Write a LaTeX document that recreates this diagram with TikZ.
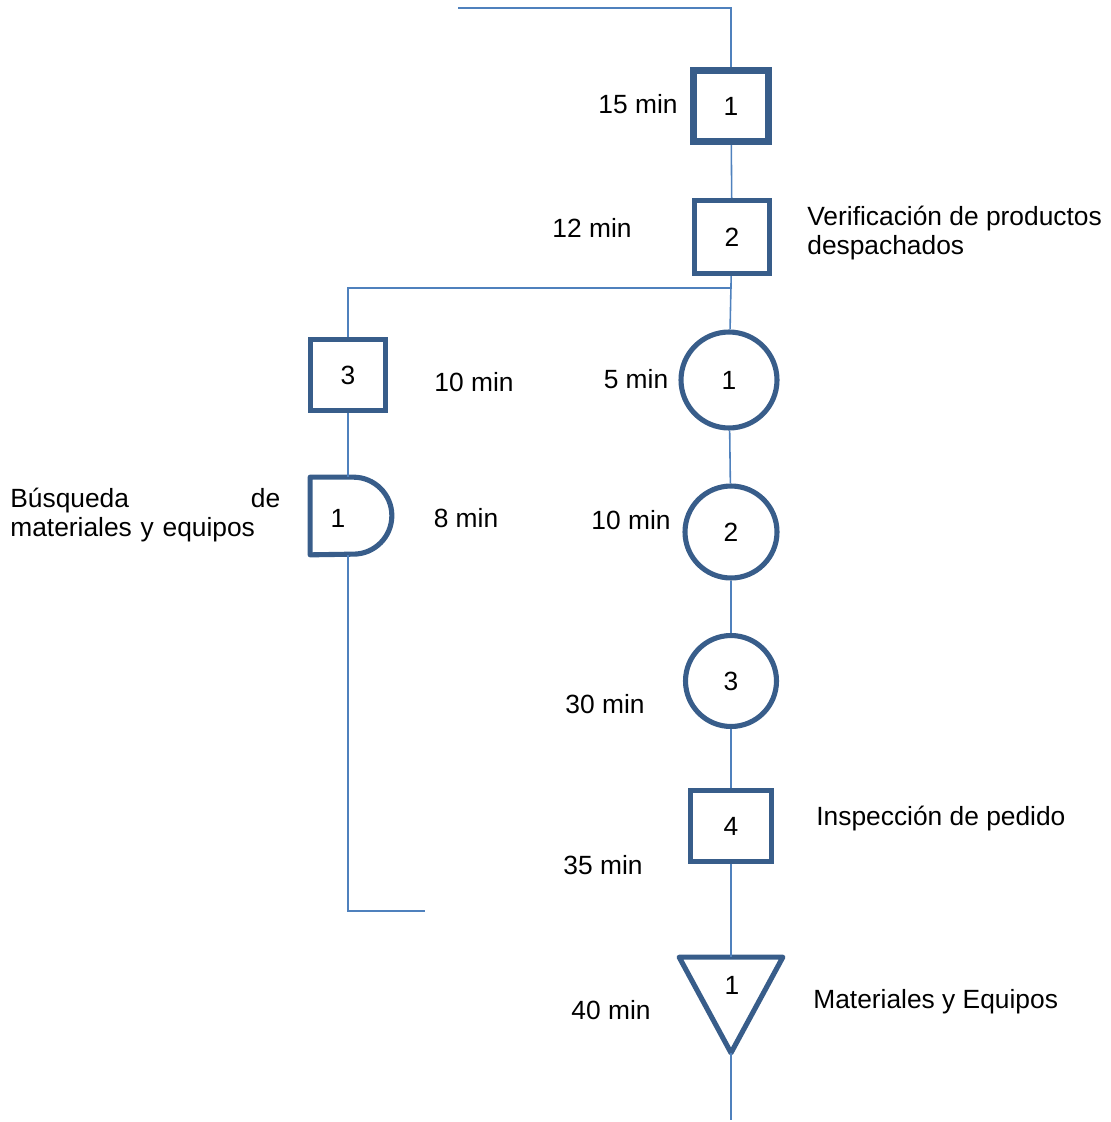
\documentclass[tikz,border=0pt]{standalone}
\usepackage{fontspec}
\setmainfont{Liberation Sans}
\definecolor{lineblue}{RGB}{79,129,189}
\definecolor{shapeblue}{RGB}{56,93,138}

\begin{document}
\begin{tikzpicture}[
    x=0.02cm, y=-0.02cm,
    font=\fontsize{15}{17}\selectfont,
    opbox/.style={rectangle, draw=shapeblue, line width=2.9pt, minimum width=1.5cm, minimum height=1.42cm, inner sep=0pt},
    opcircle/.style={circle, draw=shapeblue, line width=2.9pt, inner sep=0pt},
    holder/.style={rectangle, inner sep=0pt},
    shapeline/.style={draw=shapeblue, line width=2.9pt, line join=round},
    line/.style={draw=lineblue, line width=0.9pt},
    time/.style={inner sep=0pt},
    note/.style={anchor=west, align=left, inner sep=0pt}
]
\useasboundingbox (0,0) rectangle (1110,1122);

% Nodes
\node[opbox, line width=4.2pt] (op1) at (731,106) {1};
\node[opbox, minimum height=1.46cm] (op2) at (732,237) {2};
\node[opbox] (op3) at (348,375) {3};
\node[opbox, minimum width=1.62cm] (op4) at (731,826) {4};
\node[opcircle, minimum size=1.92cm] (tr1) at (729,380) {1};
\node[opcircle, minimum size=1.84cm] (tr2) at (731,532) {2};
\node[opcircle, minimum size=1.82cm] (tr3) at (731,681) {3};
\node[holder, minimum width=1.62cm, minimum height=1.54cm] (delay) at (351,516) {};
\node[holder, minimum width=2.06cm, minimum height=1.9cm] (store) at (731,1005) {};

% Shapes drawn round the holders
\draw[shapeline] (delay.south west) -- (delay.north west) -- ([xshift=-0.77cm]delay.north east) arc[start angle=90, end angle=-90, radius=0.77cm] -- cycle;
\draw[shapeline] (store.north west) -- (store.north east) -- (store.south) -- cycle;
\node (delaynum) at (338,518) {1};
\node (storenum) at (732,985) {1};

% Lines
\coordinate (start) at (458,8);
\coordinate (split) at (732,288);
\coordinate (fin) at (425,911);
\coordinate (exit) at (731,1120);
\draw[line] (start) -| (op1);
\draw[line] (op1) -- (op2);
\draw[line] (op2) -- (tr1);
\draw[line] (split) -| (op3);
\draw[line] (tr1) -- (tr2);
\draw[line] (tr2) -- (tr3);
\draw[line] (tr3) -- (op4);
\draw[line] (op4) -- (store.north);
\draw[line] (store.south) -- (exit);
\draw[line] (op3) -- (op3 |- delay.north);
\draw[line] (op3 |- delay.south) |- (fin);

% Times
\node[time] (t1) at (638,104) {15 min};
\node[time] (t2) at (592,228) {12 min};
\node[time] (t3) at (474,382) {10 min};
\node[time] (t4) at (636,379) {5 min};
\node[time] (t5) at (466,518) {8 min};
\node[time] (t6) at (631,520) {10 min};
\node[time] (t7) at (605,704) {30 min};
\node[time] (t8) at (603,865) {35 min};
\node[time] (t9) at (611,1010) {40 min};

% Notes
\node[note] (nop2) at (807,233) {Verificación de productos\\despachados};
\node[note] (nop4) at (816,819) {Inspección de pedido};
\node[note] (nstore) at (813,1002) {Materiales y Equipos};
\node[note, text width=5.4cm] (ndelay) at (10,515) {Búsqueda \hfill de\\materiales y equipos};

\end{tikzpicture}
\end{document}
